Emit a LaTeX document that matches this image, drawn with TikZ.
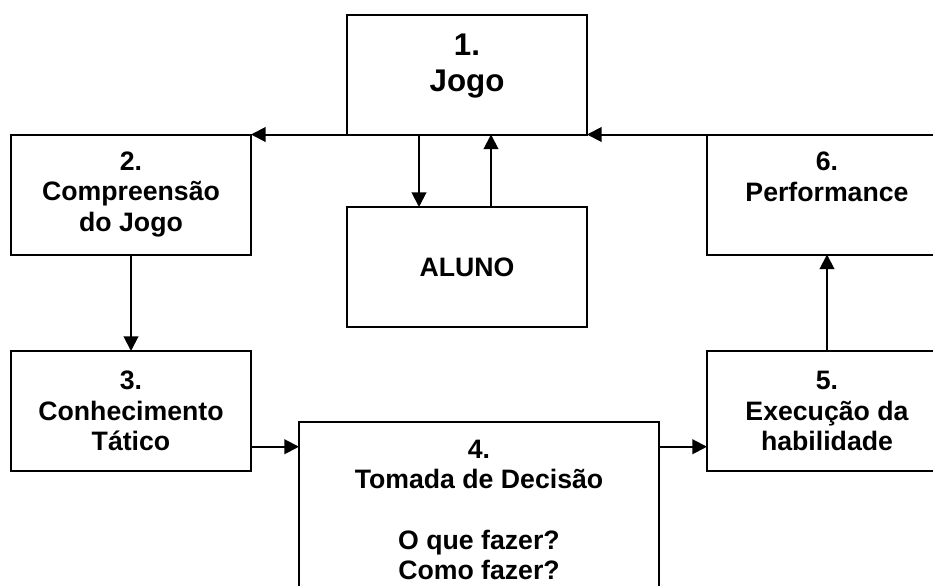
\documentclass[tikz,border=0pt]{standalone}
\usepackage{fontspec}
\setmainfont{Liberation Sans}
\usetikzlibrary{arrows.meta}

\tikzset{
	caixa/.style={draw, rectangle, line width=1.5pt, inner sep=0pt, outer sep=0pt,
		minimum width=180pt, minimum height=90pt, align=center,
		font=\bfseries\fontsize{20}{22.7}\selectfont},
	seta/.style={-{Triangle[length=11pt,width=11pt]}, line width=1.5pt}
}

\begin{document}
\begin{tikzpicture}[x=0.75pt,y=-0.75pt]
		\useasboundingbox (0,0) rectangle (933,586);
		\node[caixa, font=\bfseries\fontsize{23.5}{27.5}\selectfont, text depth=17.7pt] (jogo) at (467,74.5) {1.\\Jogo};
		\node[caixa] (compreensao) at (131,194.5) {2.\\Compreensão\\do Jogo};
		\node[caixa, text depth=26.7pt] (performance) at (827,194.5) {6.\\Performance};
		\node[caixa] (aluno) at (467,267) {ALUNO};
		\node[caixa] (conhecimento) at (131,411) {3.\\Conhecimento\\Tático};
		\node[caixa] (execucao) at (827,411) {5.\\Execução da\\habilidade};
		\node[caixa, minimum width=270pt, minimum height=132pt] (decisao) at (479,510)
			{4.\\Tomada de Decisão\\[22.7pt]O que fazer?\\Como fazer?};
		\coordinate (s3) at ([yshift=-26.8pt]conhecimento.east);
		\path[seta]
		(jogo.south west) edge (compreensao.north east)
		(performance.north east) edge (jogo.south east)
		([xshift=-36pt]jogo.south) edge ([xshift=-36pt]aluno.north)
		([xshift=18pt]aluno.north) edge ([xshift=18pt]jogo.south)
		(compreensao.south) edge (conhecimento.north)
		(s3) edge (s3 -| decisao.west)
		(decisao.east |- s3) edge (execucao.west |- s3)
		(execucao.north) edge (performance.south);
		%(aluno) volta ao jogo
	\end{tikzpicture}
\end{document}
